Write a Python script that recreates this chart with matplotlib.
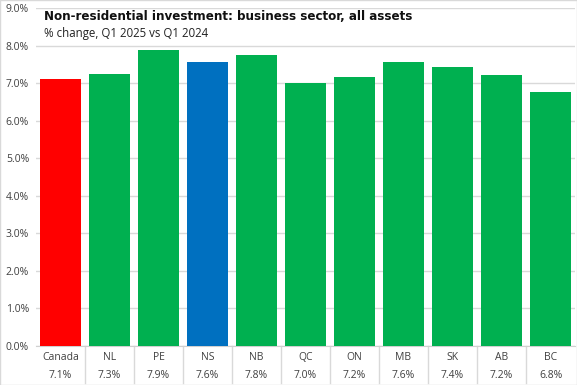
import matplotlib
matplotlib.use("Agg")
import matplotlib.pyplot as plt
from matplotlib.ticker import FuncFormatter, MultipleLocator
from matplotlib import font_manager

categories = ["Canada", "NL", "PE", "NS", "NB", "QC", "ON", "MB", "SK", "AB", "BC"]
values = [7.12, 7.25, 7.87, 7.55, 7.75, 7.00, 7.17, 7.57, 7.42, 7.22, 6.77]
value_labels = ["7.1%", "7.3%", "7.9%", "7.6%", "7.8%", "7.0%", "7.2%", "7.6%", "7.4%", "7.2%", "6.8%"]
colors = ["#FF0000", "#00B050", "#00B050", "#0070C0"] + ["#00B050"] * 7

plt.rcParams['font.family'] = ['Open Sans', 'DejaVu Sans']

names = {f.name for f in font_manager.fontManager.ttflist}
if 'Liberation Sans Narrow' in names:
    title_kw = dict(family=['Liberation Sans Narrow', 'DejaVu Sans'], fontsize=11)
elif 'DejaVu Sans Condensed' in names:
    title_kw = dict(family=['DejaVu Sans Condensed', 'DejaVu Sans'], fontsize=9.5)
else:
    title_kw = dict(family=['DejaVu Sans'], fontstretch='condensed', fontsize=9.5)

W, H = 577, 385
fig = plt.figure(figsize=(W / 100, H / 100), dpi=100)
left, right, top, bottom = 36, 575, 8, 346
ax = fig.add_axes([left / W, 1 - bottom / H, (right - left) / W, (bottom - top) / H])

x = list(range(len(categories)))
ax.bar(x, values, width=0.83, color=colors, zorder=3)
ax.set_xlim(-0.5, len(categories) - 0.5)
ax.set_ylim(0, 9)
ax.yaxis.set_major_locator(MultipleLocator(1))
ax.yaxis.set_major_formatter(FuncFormatter(lambda v, p: f"{v:.1f}%"))
ax.grid(axis='y', color='#d9d9d9', linewidth=1, zorder=0)
for s in ['top', 'right', 'left']:
    ax.spines[s].set_visible(False)
ax.spines['bottom'].set_color('#d0d0d0')
ax.tick_params(axis='y', length=0, labelsize=7.5, colors='#404040', pad=5)
ax.tick_params(axis='x', length=0, labelsize=7.5, colors='#404040', pad=4)
ax.set_xticks(x)
ax.set_xticklabels([f"{c}\n{v}" for c, v in zip(categories, value_labels)], linespacing=1.9)

sep_bottom = -(383 - 346) / (bottom - top)
for b in range(1, len(categories)):
    ax.plot([b - 0.5, b - 0.5], [0, sep_bottom], transform=ax.get_xaxis_transform(),
            color='#d9d9d9', linewidth=1, clip_on=False)

fig.text(44 / W, 1 - 17 / H, "Non-residential investment: business sector, all assets",
         fontweight='bold', va='center', ha='left', color='#111111', **title_kw)
fig.text(44 / W, 1 - 34 / H, "% change, Q1 2025 vs Q1 2024",
         fontsize=8.3, va='center', ha='left', color='#222222')

fig.patches.append(plt.Rectangle((0, 0), 1, 1, transform=fig.transFigure, fill=False,
                                 edgecolor='#d9d9d9', linewidth=1))

fig.savefig("out.png", dpi=100)
